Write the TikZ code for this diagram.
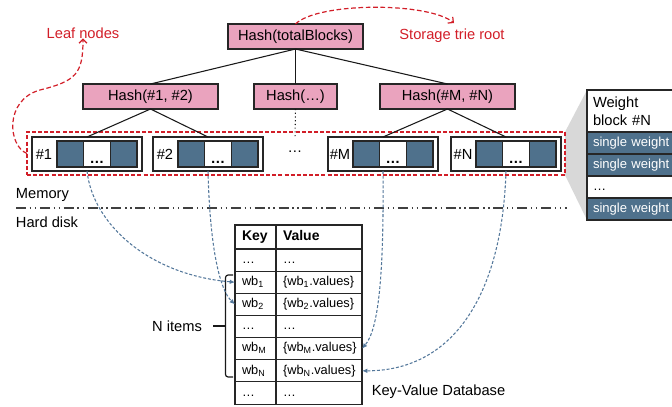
\documentclass[tikz,border=0pt]{standalone}
\usepackage{fontspec}
\setmainfont{Liberation Sans}
\usetikzlibrary{arrows.meta,backgrounds}
\definecolor{hashpink}{RGB}{234,163,190}
\definecolor{wblue}{RGB}{79,113,140}
\definecolor{leafred}{RGB}{210,30,40}
\definecolor{linkblue}{RGB}{84,120,155}
\definecolor{fanfill}{RGB}{216,216,216}

\begin{document}
\begin{tikzpicture}[x=0.75pt,y=-0.75pt,
  every node/.style={inner sep=0pt,outer sep=0pt},
  sz/.style 2 args={minimum width=#1*0.75pt,minimum height=#2*0.75pt},
  f11/.style={font=\fontsize{11}{13.5}\selectfont},
  hashbox/.style={draw=black!85,line width=0.9pt,fill=hashpink,f11},
  tree/.style={draw=black!90,line width=0.8pt},
  leafbox/.style={draw=black!85,line width=0.8pt,fill=white},
  cellblue/.style={draw=black!85,line width=0.8pt,fill=wblue},
  cellwhite/.style={draw=black!85,line width=0.8pt,fill=white},
  redcurve/.style={draw=leafred,line width=0.9pt,dash pattern=on 3.5pt off 2pt,
    -{Straight Barb[length=3pt,width=6pt]}},
  link/.style={draw=linkblue,line width=0.8pt,dash pattern=on 2.2pt off 1.4pt,
    -{Latex[length=4pt,width=3.5pt]}},
  prow/.style={anchor=west,draw=black!85,line width=0.8pt,minimum width=93*0.75pt,
    text width=60.75pt,inner xsep=4.5pt,align=left,
    font=\fontsize{9.8}{12}\selectfont},
  kcell/.style={draw=black!85,line width=0.8pt,fill=white,minimum width=41*0.75pt,
    text width=20.25pt,inner xsep=5.25pt,align=left,
    font=\fontsize{9.6}{12}\selectfont},
  vcell/.style={kcell,minimum width=86*0.75pt,text width=54pt},
]
\useasboundingbox (0,0) rectangle (672,407);

% hash tree
\node[hashbox,sz={135}{25}] (root) at (295.5,36.5) {Hash(totalBlocks)};
\node[hashbox,sz={135}{25}] (h12)  at (150.5,96.5) {Hash(\#1, \#2)};
\node[hashbox,sz={83}{25}]  (hmid) at (295.5,96.5) {Hash(…)};
\node[hashbox,sz={135}{25}] (hMN)  at (447.5,96.5) {Hash(\#M, \#N)};

% leaf level frame
\node[draw=leafred,line width=0.9pt,dash pattern=on 3pt off 1.6pt,sz={538}{43}]
  (frame) at (296,153.5) {};

% leaf weight blocks
\foreach \L/\lab/\nm in {32/\#1/l1, 153/\#2/l2, 328/\#M/lM, 451/\#N/lN}{
  \node[leafbox,sz={110}{34}] (\nm) at (\L+55,154) {};
  \node[f11] (\nm t) at (\L+12,154) {\lab};
  \node[cellblue,sz={26.67}{26}]  (\nm a) at (\L+38.33,154) {};
  \node[cellwhite,sz={26.67}{26}] (\nm b) at (\L+65,154) {};
  \node[cellblue,sz={26.67}{26}]  (\nm c) at (\L+91.67,154) {};
  \node[f11] (\nm d) at (\L+65,162) {\textbf{…}};
}
\node[f11] (mdots) at (295,152) {…};
\coordinate (mtop) at (295,138);

\draw[tree] (root.south) -- (h12.north);
\draw[tree] (root.south) -- (hmid.north);
\draw[tree] (root.south) -- (hMN.north);
\draw[tree] (h12.south) -- (l1.north);
\draw[tree] (h12.south) -- (l2.north);
\draw[tree] (hMN.south) -- (lM.north);
\draw[tree] (hMN.south) -- (lN.north);
\draw[draw=black!90,line width=0.8pt,dotted] (hmid.south) -- (mtop);

% annotations
\node[f11,text=leafred] (leaflab) at (83,33) {Leaf nodes};
\node[f11,text=leafred] (rootlab) at (452,36) {Storage trie root};
\draw[redcurve] (root.north) .. controls (318,2) and (428,2) .. (454,23);
\draw[redcurve] (frame.west) .. controls (8,146) and (4,100) .. (40,90)
  .. controls (76,81) and (83,74) .. (leaflab.south);

% detail of one weight block
\begin{scope}
\clip (0,0) rectangle (672,407);
\node[prow,fill=white,minimum height=42*0.75pt,font=\fontsize{11}{13.5}\selectfont]
  (wh) at (587,111) {Weight\\block \#N};
\node[prow,fill=wblue,text=white,minimum height=22*0.75pt] (w1) at (587,143) {\strut single weight};
\node[prow,fill=wblue,text=white,minimum height=22*0.75pt] (w2) at (587,165) {\strut single weight};
\node[prow,fill=white,minimum height=22*0.75pt] (wd) at (587,187) {\strut …};
\node[prow,fill=wblue,text=white,minimum height=22*0.75pt] (w3) at (587,209) {\strut single weight};
\end{scope}
\begin{scope}[on background layer]
\fill[fanfill] (frame.north east) -- (wh.north west) -- (w3.south west)
  -- (frame.south east) -- cycle;
\end{scope}

% memory / disk boundary
\node[f11,anchor=west] (mem) at (16,195) {Memory};
\node[f11,anchor=west] (disk) at (16,222) {Hard disk};
\draw[draw=black!75,line width=0.9pt,
  dash pattern=on 7.5pt off 2.8pt on 1pt off 2.8pt on 1pt off 2.8pt] (16,208) -- (567,208);

% key-value table
\node[kcell,minimum height=24*0.75pt,font=\fontsize{10.5}{12}\selectfont\bfseries]
  (k0) at (255.5,237) {\strut Key};
\node[vcell,minimum height=24*0.75pt,font=\fontsize{10.5}{12}\selectfont\bfseries]
  (v0) at (319,237) {\strut Value};
\foreach \i/\k/\v in {1/…/…,
    2/wb\textsubscript{1}/\{wb\textsubscript{1}.values\},
    3/wb\textsubscript{2}/\{wb\textsubscript{2}.values\},
    4/…/…,
    5/wb\textsubscript{M}/\{wb\textsubscript{M}.values\},
    6/wb\textsubscript{N}/\{wb\textsubscript{N}.values\},
    7/…/…}{
  \node[kcell,minimum height=22.15*0.75pt] (k\i) at (255.5,249+22.15*\i-11.075) {\strut\k};
  \node[vcell,minimum height=22.15*0.75pt] (v\i) at (319,249+22.15*\i-11.075) {\strut\v};
}
\node[f11] (nitems) at (177,326) {N items};
\draw[draw=black!90,line width=0.9pt,rounded corners=2pt]
  (233,275) -- (225.5,275) -- (225.5,377) -- (233,377);
\draw[draw=black!90,line width=0.9pt] (213,326) -- (225.5,326);
\node[f11] (kvlab) at (438.5,392) {Key-Value Database};

% links from leaves to database rows
\draw[link] (l1.south) .. controls (93,225) and (150,275) .. (k2.west);
\draw[link] (l2.south) .. controls (210,250) and (220,290) .. (k3.west);
\draw[link] (lM.south) .. controls (384,280) and (378,330) .. (v5.east);
\draw[link] (lN.south) .. controls (502,300) and (450,371) .. (v6.east);
\end{tikzpicture}
\end{document}
